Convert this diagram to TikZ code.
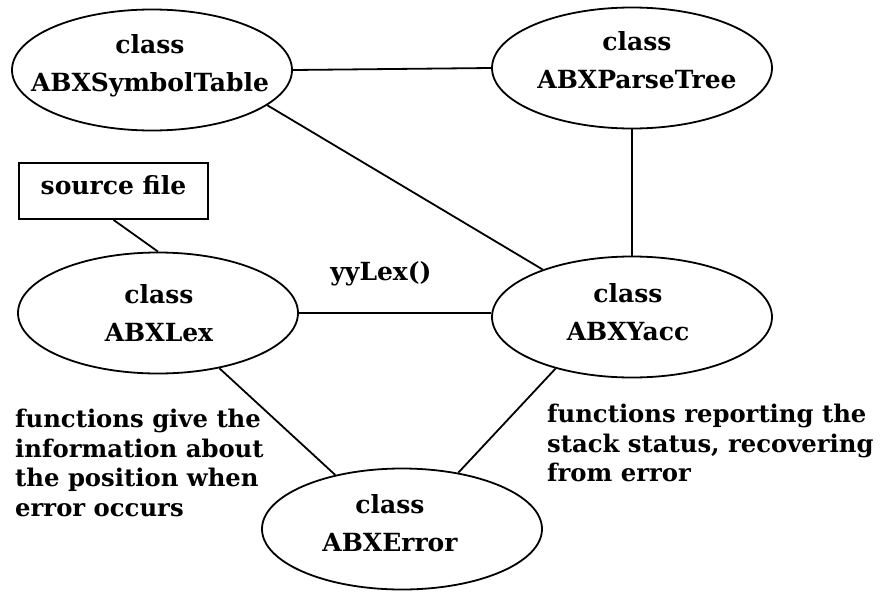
\documentclass[tikz,border=0pt]{standalone}
\usepackage{fontspec}
\setmainfont{DejaVu Serif}
\usetikzlibrary{shapes.geometric}
\tikzset{
  cls/.style={ellipse, draw, line width=1.8pt, inner sep=0pt, minimum width=280pt, minimum height=121pt},
  clstext/.style={anchor=north, align=center, inner sep=0pt, font=\bfseries\fontsize{25}{38.5}\selectfont},
  note/.style={anchor=north west, align=left, inner sep=0pt, font=\bfseries\fontsize{24.3}{29.6}\selectfont},
  link/.style={line width=1.8pt},
}
\begin{document}
\begin{tikzpicture}[x=1pt,y=-1pt]
\useasboundingbox (0,0) rectangle (881,592);
% ellipses
\node[cls] (sym) at (152,70) {};
\node[cls] (parse) at (632,68) {};
\node[cls] (lex) at (158,313) {};
\node[cls] (yacc) at (632,317) {};
\node[cls] (err) at (402,529) {};
% ellipse texts
\node[clstext] (symt) at (150,34) {class\\ABXSymbolTable};
\node[clstext] (parset) at (637,31) {class\\ABXParseTree};
\node[clstext] (lext) at (159,284) {class\\ABXLex};
\node[clstext] (yacct) at (628,283) {class\\ABXYacc};
\node[clstext] (errt) at (390,494) {class\\ABXError};
% source file box
\node[draw, line width=1.8pt, minimum width=189pt, minimum height=56pt, inner sep=0pt,
      font=\bfseries\fontsize{25}{30}\selectfont, text height=19pt, text depth=12pt] (src) at (113.5,191) {source file};
% labels
\node[anchor=base, inner sep=0pt, font=\bfseries\fontsize{25}{30}\selectfont] (yylex) at (381,280) {yyLex()};
\node[note] (leftnote) at (15,409) {functions give the\\information about\\the position when\\error occurs};
\node[note] (rightnote) at (547,404) {functions reporting the\\stack status, recovering\\from error};
% connectors
\draw[link] (sym.east) -- (parse.west);
\draw[link] (sym.-17) -- (yacc.152);
\draw[link] (parse.south) -- (yacc.north);
\draw[link] (src.south) -- (lex.north);
\draw[link] (lex.east) -- (lex.east -| yacc.west);
\draw[link] (lex.-42) -- (err.141);
\draw[link] (yacc.214) -- (err.45);
\end{tikzpicture}
\end{document}
